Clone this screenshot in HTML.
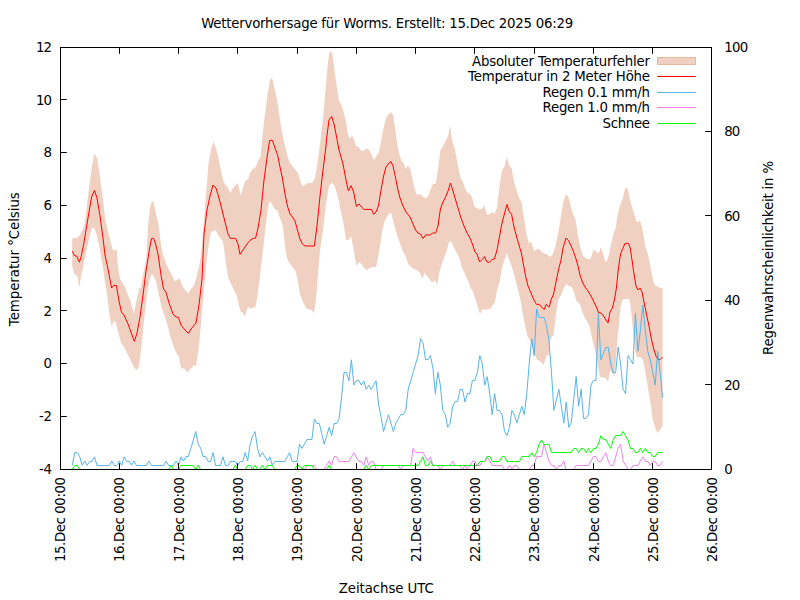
<!DOCTYPE html>
<html lang="de"><head><meta charset="utf-8"><title>Wettervorhersage für Worms</title>
<style>html,body{margin:0;padding:0;background:#fff}svg{display:block}text{font-family:"DejaVu Sans","Liberation Sans",sans-serif;font-size:13.33px;fill:#000}</style></head><body>
<svg width="800" height="600" viewBox="0 0 800 600">
<rect width="800" height="600" fill="#fff"/>
<polygon points="72.20,238.20 77.00,238.10 80.00,235.00 83.10,228.75 84.40,225.00 85.40,219.00 88.00,196.00 92.00,166.00 94.40,153.80 97.20,158.00 99.90,176.00 102.90,200.00 105.20,219.00 108.60,234.00 112.40,249.00 114.40,250.40 116.60,249.60 118.00,267.00 120.00,279.00 122.40,283.00 125.00,287.00 128.00,295.00 131.00,303.00 134.00,314.00 136.40,301.00 139.00,289.00 141.00,287.00 143.00,275.00 145.00,265.00 146.40,257.00 148.00,226.00 150.40,206.00 152.00,201.00 153.60,202.00 156.00,214.00 158.40,224.00 161.00,244.00 163.00,255.00 166.00,263.00 169.00,270.00 172.00,275.00 174.40,281.00 177.00,280.00 179.40,278.00 182.00,285.00 185.00,290.00 188.40,293.40 191.00,289.00 193.60,286.00 196.00,279.00 199.00,267.00 201.00,255.00 206.00,196.00 208.40,164.00 211.00,150.00 213.40,141.40 216.00,148.00 218.00,156.00 220.00,166.00 222.00,175.00 223.50,181.00 225.50,185.00 228.00,188.00 230.40,193.00 233.00,188.00 235.60,185.00 237.60,183.00 239.00,188.00 240.60,195.60 242.40,190.00 245.60,180.00 248.00,180.00 250.00,173.00 253.00,169.00 255.60,167.00 258.00,161.00 260.40,157.00 262.40,136.00 265.00,114.00 267.60,94.00 270.00,80.00 272.00,77.60 274.00,86.00 277.00,100.00 280.00,120.00 281.60,130.00 284.00,142.00 287.00,154.00 289.40,162.00 292.40,166.00 295.60,170.00 298.00,173.00 300.00,180.00 302.40,186.00 305.00,185.00 307.60,183.00 310.00,183.00 312.40,183.00 315.00,178.00 317.00,166.00 320.00,144.00 323.00,118.00 325.60,90.00 327.60,66.00 329.20,53.00 331.80,51.20 333.20,60.00 335.00,74.00 337.00,88.00 339.00,101.00 341.00,104.00 343.60,112.00 346.00,122.00 348.00,134.00 350.00,139.00 352.00,135.60 354.00,139.00 356.00,146.00 359.00,147.00 361.00,151.00 363.00,151.00 366.00,149.00 368.40,149.00 371.00,153.00 374.00,160.00 376.40,156.00 379.00,152.00 382.00,136.00 385.00,122.00 387.00,116.00 389.00,114.00 391.00,112.00 393.00,115.00 395.00,128.00 397.00,142.00 399.00,154.00 400.00,156.00 402.00,162.00 403.60,163.00 405.60,169.00 408.00,165.60 410.00,168.00 412.00,177.00 414.40,188.00 417.00,195.00 419.60,194.00 422.40,196.00 425.60,198.40 428.00,196.00 430.40,190.00 433.00,183.60 435.60,184.00 438.00,170.00 440.40,150.00 443.00,146.00 446.00,140.00 448.00,136.00 450.20,125.20 452.00,140.00 455.00,150.00 458.00,166.00 460.40,178.00 463.00,182.00 465.60,190.00 468.00,193.00 470.00,194.00 472.00,197.00 474.40,207.00 477.00,208.00 479.60,209.60 482.00,209.00 484.00,205.00 487.00,214.40 490.00,214.00 492.40,212.00 494.40,214.00 497.00,208.00 499.60,186.00 502.00,170.00 504.40,167.00 507.00,156.60 509.00,165.00 511.60,168.00 514.00,182.00 516.40,190.00 519.00,198.00 521.60,202.00 524.00,218.00 526.40,234.00 529.00,243.00 531.00,241.60 534.00,251.00 537.00,249.00 539.00,249.00 542.00,252.00 545.00,254.00 547.00,254.00 550.00,257.00 552.40,255.00 555.00,248.00 558.00,234.00 561.00,216.00 563.60,201.00 566.00,194.00 568.40,197.00 570.40,205.00 573.00,214.00 575.60,220.00 578.00,236.00 581.00,250.00 583.00,256.00 584.50,257.00 587.50,259.25 590.50,259.00 593.50,249.50 596.20,251.75 598.75,253.25 600.70,247.25 602.50,251.75 604.75,260.00 606.50,262.00 609.25,254.00 611.50,242.00 613.30,234.50 616.00,227.00 617.50,215.00 619.75,206.00 622.75,198.50 625.00,188.75 627.70,188.00 629.50,197.00 631.75,206.00 634.00,213.50 636.70,221.75 638.50,221.75 640.00,220.25 641.80,227.00 643.75,236.00 645.25,246.50 647.20,251.75 648.70,258.00 650.40,266.00 653.00,280.00 655.60,286.00 658.00,286.40 660.00,288.00 662.60,288.00 662.60,425.60 661.25,428.10 659.40,430.60 657.50,433.10 656.25,430.60 654.40,425.00 652.50,418.75 651.25,408.00 649.40,396.25 647.50,385.00 645.60,373.75 643.75,363.75 642.50,358.75 640.00,356.90 637.50,357.50 635.30,352.50 633.80,340.00 632.00,320.00 630.40,304.00 629.00,299.00 624.40,299.00 622.40,300.00 620.40,308.00 619.00,324.00 617.40,340.00 616.40,352.50 615.60,365.00 614.40,373.75 613.50,376.25 612.50,373.75 610.60,370.00 609.40,373.75 608.10,381.90 606.25,378.75 604.40,377.50 600.00,377.00 598.00,366.00 596.00,355.00 594.00,346.00 592.00,338.00 590.00,328.00 587.60,322.00 585.00,318.00 582.40,312.00 580.00,304.00 576.40,301.00 574.00,292.00 571.60,287.00 569.00,286.00 566.40,284.00 564.00,288.00 561.60,294.00 558.10,300.00 556.25,312.50 554.40,327.50 553.10,336.20 551.90,336.20 550.25,341.20 548.75,355.00 546.90,355.00 545.60,358.80 543.50,364.40 540.00,361.20 536.90,359.40 535.00,355.00 530.00,340.00 527.50,336.20 525.00,325.00 522.50,312.50 520.60,300.00 519.00,294.00 516.40,284.00 514.00,274.00 511.60,266.00 509.00,259.00 507.00,253.00 504.40,260.00 502.00,268.00 499.60,282.00 497.00,290.00 495.00,302.00 493.00,305.00 490.00,309.00 486.00,309.60 482.40,309.60 480.00,314.00 477.60,306.00 475.00,298.00 472.40,290.00 471.00,289.00 468.00,281.00 465.00,274.00 462.00,268.00 460.00,260.00 458.00,255.00 455.60,251.00 453.00,245.00 451.00,241.00 449.00,242.00 447.00,250.00 444.00,258.00 441.00,266.00 439.00,274.00 437.40,285.00 435.00,280.00 432.40,282.40 430.00,280.00 427.00,276.00 424.40,273.00 422.40,279.00 420.00,273.00 417.00,270.00 414.00,269.00 411.00,267.00 408.00,264.00 405.60,256.00 403.00,252.00 401.00,246.00 398.00,238.00 395.60,230.00 393.00,220.00 391.00,212.40 388.00,215.00 385.00,220.00 382.40,230.00 380.00,246.00 378.00,258.00 376.00,267.00 373.00,267.00 370.00,268.00 367.00,270.00 364.00,268.00 361.60,264.00 359.00,262.00 356.60,266.00 355.00,258.00 353.00,246.00 351.00,236.00 348.40,240.00 346.00,240.00 343.00,220.00 340.00,208.00 339.00,201.00 336.00,190.00 333.60,184.00 331.40,183.00 329.00,186.00 326.00,204.00 323.00,230.00 320.00,251.00 318.40,270.00 317.00,288.00 315.60,302.00 314.00,313.00 311.60,310.00 309.00,309.60 306.00,308.00 303.00,302.00 300.00,294.00 298.00,282.00 296.00,272.00 294.00,269.00 291.00,265.00 287.50,260.00 285.60,250.00 284.00,237.50 283.10,228.75 282.25,223.75 280.60,220.00 278.75,215.00 277.25,210.00 275.25,209.40 273.75,207.50 271.90,203.75 269.75,201.50 268.75,203.75 267.50,211.00 266.25,221.00 264.40,237.50 262.75,252.50 261.20,265.00 259.00,284.00 256.80,300.00 255.00,308.00 253.00,307.00 251.00,309.00 249.00,307.00 247.00,309.00 245.00,317.00 243.00,313.00 241.00,312.00 239.00,306.00 237.00,296.00 234.00,290.00 231.00,284.00 228.00,277.00 225.60,260.00 223.00,242.00 221.00,239.00 218.00,235.00 215.60,230.00 213.00,231.00 211.00,232.00 209.00,242.00 206.00,266.00 203.00,300.00 200.00,335.00 198.80,347.50 196.90,360.00 196.00,366.20 193.80,365.00 191.90,368.10 190.00,368.80 188.10,372.50 185.60,370.00 183.10,367.50 181.20,369.40 180.00,362.50 179.00,356.20 177.50,355.00 175.00,350.00 171.00,339.00 168.00,327.00 165.00,317.00 162.00,309.00 159.00,295.00 156.00,281.00 153.00,275.00 151.00,275.00 148.00,287.00 145.00,311.00 142.00,341.00 140.00,359.00 138.40,368.00 136.60,370.00 134.40,368.00 132.00,363.00 128.00,355.00 124.00,347.00 121.00,343.00 118.00,331.00 115.60,322.00 113.60,321.00 111.60,327.00 109.60,315.00 107.00,295.00 104.00,275.00 102.00,262.00 100.00,250.00 97.50,237.50 94.40,228.10 91.90,228.10 88.75,240.00 85.00,257.50 82.50,270.00 80.60,278.75 79.40,287.50 77.25,275.60 75.00,275.00 73.10,270.00 72.20,265.00" fill="#f0d0c0" stroke="none"/>
<polyline points="72.30,251.20 74.40,255.60 76.90,256.25 79.40,262.20 81.25,256.25 83.75,243.75 85.00,236.00 88.00,218.00 91.60,197.00 94.40,190.40 97.00,198.00 100.00,216.00 103.00,238.00 105.00,255.00 108.00,269.00 111.60,288.00 113.60,285.40 116.40,285.40 119.00,301.00 121.40,312.00 124.00,315.00 128.00,324.00 132.00,335.00 134.40,341.40 137.00,333.00 140.00,317.00 143.00,295.00 146.00,271.00 150.00,246.00 151.60,238.40 153.60,238.40 155.60,244.00 158.00,254.00 161.00,275.00 163.60,289.00 166.00,292.00 169.00,303.00 173.00,314.00 176.00,317.00 178.40,317.40 181.00,325.00 185.00,330.00 188.40,333.40 191.00,329.00 196.00,323.00 199.00,305.00 202.00,279.00 204.00,234.00 207.00,210.00 210.00,196.00 213.00,185.00 216.00,188.00 219.00,198.00 222.00,210.00 225.00,222.00 228.00,234.00 230.40,238.40 235.60,238.40 238.00,244.00 240.00,254.40 243.00,250.00 247.00,244.00 250.00,240.40 253.00,238.40 255.60,238.00 258.00,228.00 261.00,210.00 264.00,180.00 267.00,158.00 269.60,140.40 272.40,140.40 275.00,148.00 277.60,155.00 280.00,167.00 282.40,178.00 285.00,194.00 287.40,206.00 290.00,214.00 292.40,217.00 295.00,221.00 297.40,230.00 300.00,239.00 302.40,244.00 305.00,246.00 314.40,246.00 317.00,226.00 320.00,196.00 323.00,170.00 326.00,146.00 326.40,140.00 329.00,120.00 331.60,116.40 334.00,124.00 336.40,136.00 339.00,150.00 343.00,164.00 346.00,180.00 348.40,191.00 351.00,185.60 353.60,192.00 356.40,206.40 359.00,204.00 361.60,207.00 364.00,209.40 371.60,209.40 373.60,214.40 376.00,212.00 378.40,206.00 381.00,190.00 383.60,176.00 386.00,167.00 389.00,163.00 391.00,161.60 393.00,166.00 395.60,178.00 398.00,190.00 400.00,198.00 403.00,206.00 406.00,212.00 410.00,217.00 413.00,224.00 415.60,230.00 418.00,233.00 420.40,234.00 423.00,238.40 425.60,235.00 430.40,235.00 432.40,233.00 435.60,233.00 438.00,226.00 440.40,209.00 443.00,202.00 446.00,196.00 448.40,190.00 450.40,183.00 452.40,189.00 455.00,198.00 458.00,208.00 461.00,218.00 464.00,226.00 467.00,233.00 470.00,238.00 472.40,244.00 475.00,252.00 477.00,254.00 479.60,262.00 482.00,259.60 484.40,256.60 487.00,262.00 489.40,262.40 492.00,259.60 494.40,259.00 497.00,250.00 499.60,236.00 502.00,223.00 504.40,214.00 507.00,204.40 509.00,211.00 511.60,214.40 514.00,227.00 516.40,236.00 519.00,245.00 521.60,254.00 523.00,262.00 525.60,276.00 528.00,286.00 531.00,293.00 534.00,300.00 536.50,304.40 539.50,304.40 541.60,307.00 544.00,309.50 546.40,304.40 549.20,307.20 551.00,300.00 553.60,294.00 556.00,282.00 558.40,270.00 561.00,260.00 563.00,248.00 566.00,238.00 568.40,240.40 571.00,245.60 573.60,252.00 576.00,259.00 578.00,266.00 580.00,275.00 582.40,282.00 585.00,287.00 588.00,291.00 591.00,296.00 594.00,302.00 596.40,307.00 598.40,312.40 601.00,313.00 603.60,316.00 606.00,320.00 608.00,323.00 610.00,312.00 612.40,308.00 614.40,300.00 616.40,288.00 618.00,272.00 619.60,260.00 620.80,253.20 622.75,248.75 625.00,243.40 628.30,243.30 630.25,248.00 632.00,260.00 634.00,274.00 636.00,286.00 638.00,290.00 640.00,288.00 642.00,292.00 644.00,302.00 646.40,314.00 649.00,326.00 651.60,340.00 654.00,350.00 656.00,356.00 658.00,359.60 660.00,359.60 662.60,357.00" fill="none" stroke="#ff0000" stroke-width="1" stroke-linejoin="miter" stroke-miterlimit="10"/>
<polyline points="72.30,465.28 74.77,452.50 77.24,452.50 79.71,456.84 82.18,465.28 84.65,461.06 87.12,465.28 89.59,461.50 92.06,461.50 94.53,456.84 97.00,465.50 99.47,465.50 101.94,465.50 104.41,465.50 106.88,465.50 109.35,465.50 111.82,461.06 114.29,465.50 116.76,465.50 119.23,461.06 121.70,465.28 124.17,456.84 126.64,461.50 129.11,461.50 131.58,465.28 134.05,461.06 136.52,465.50 138.99,465.50 141.46,465.50 143.93,465.50 146.40,465.50 148.87,461.06 151.34,465.50 153.81,465.50 156.28,465.50 158.75,465.50 161.22,465.50 163.69,465.50 166.16,461.06 168.63,465.50 171.10,465.50 173.57,465.50 176.04,461.06 178.51,465.28 180.98,456.84 183.45,461.06 185.92,456.50 188.39,456.50 190.86,448.40 193.33,439.96 195.80,431.52 198.26,444.18 200.73,448.40 203.20,456.50 205.67,456.50 208.14,461.50 210.61,461.50 213.08,452.62 215.55,465.50 218.02,465.50 220.49,465.50 222.96,456.84 225.43,465.50 227.90,465.50 230.37,461.50 232.84,461.50 235.31,461.50 237.78,465.28 240.25,461.50 242.72,461.50 245.19,452.62 247.66,461.06 250.13,444.18 252.60,435.74 255.07,431.52 257.54,448.40 260.01,456.84 262.48,452.62 264.95,456.84 267.42,461.06 269.89,456.84 272.36,465.28 274.83,461.50 277.30,461.50 279.77,461.50 282.24,461.50 284.71,461.50 287.18,456.84 289.65,452.62 292.12,461.50 294.59,461.50 297.06,461.50 299.53,444.18 302.00,448.40 304.47,444.18 306.94,439.50 309.41,439.50 311.88,439.50 314.35,418.86 316.82,423.50 319.29,423.50 321.76,433.63 324.23,444.18 326.70,435.74 329.17,427.30 331.64,435.74 334.11,423.50 336.58,423.50 339.05,418.86 341.52,397.76 343.99,372.50 346.46,372.50 348.93,380.88 351.40,359.78 353.87,385.10 356.34,380.50 358.81,380.50 361.28,385.10 363.75,380.88 366.22,389.32 368.69,385.10 371.16,389.32 373.63,385.10 376.10,380.88 378.57,404.09 381.04,416.75 383.51,431.52 385.98,423.08 388.45,414.64 390.92,423.08 393.39,431.52 395.86,423.08 398.33,418.86 400.80,414.50 403.27,414.50 405.74,410.42 408.21,389.32 410.68,380.88 413.15,372.44 415.62,364.00 418.09,355.56 420.56,338.68 423.03,342.90 425.50,359.50 427.97,359.50 430.44,355.56 432.91,368.22 435.38,393.54 437.85,372.44 440.32,385.10 442.79,410.42 445.25,414.64 447.72,427.30 450.19,423.08 452.66,406.20 455.13,401.50 457.60,401.50 460.07,389.50 462.54,389.50 465.01,401.98 467.48,393.50 469.95,393.50 472.42,380.50 474.89,380.50 477.36,372.44 479.83,355.56 482.30,364.00 484.77,385.10 487.24,376.66 489.71,393.54 492.18,414.64 494.65,393.54 497.12,410.50 499.59,410.50 502.06,414.64 504.53,431.52 507.00,435.74 509.47,427.30 511.94,410.42 514.41,414.64 516.88,423.08 519.35,414.64 521.82,406.20 524.29,414.64 526.76,393.54 529.23,364.00 531.70,338.68 534.17,355.56 536.64,309.14 539.11,317.50 541.58,317.50 544.05,317.50 546.52,326.02 548.99,340.79 551.46,372.44 553.93,410.42 556.40,399.87 558.87,389.32 561.34,406.20 563.81,423.08 566.28,401.98 568.75,427.30 571.22,423.08 573.69,399.87 576.16,376.66 578.63,406.20 581.10,389.32 583.57,418.50 586.04,418.50 588.51,414.64 590.98,385.10 593.45,380.50 595.92,380.50 598.39,313.36 600.86,359.78 603.33,353.45 605.80,347.50 608.27,347.50 610.74,364.00 613.21,372.50 615.68,372.50 618.15,347.12 620.62,364.00 623.09,389.32 625.56,393.54 628.03,355.56 630.50,359.78 632.97,364.00 635.44,313.36 637.91,351.34 640.38,330.24 642.85,304.92 645.32,330.24 647.79,351.34 650.26,359.78 652.73,372.44 655.20,385.10 657.67,351.34 660.14,372.44 662.61,397.76" fill="none" stroke="#56b4e9" stroke-width="1" stroke-linejoin="miter" stroke-miterlimit="10"/>
<polyline points="72.30,469.50 74.77,469.50 77.24,469.50 79.71,469.50 82.18,469.50 84.65,469.50 87.12,469.50 89.59,469.50 92.06,469.50 94.53,469.50 97.00,469.50 99.47,469.50 101.94,469.50 104.41,469.50 106.88,469.50 109.35,469.50 111.82,469.50 114.29,469.50 116.76,469.50 119.23,469.50 121.70,469.50 124.17,469.50 126.64,469.50 129.11,469.50 131.58,469.50 134.05,469.50 136.52,469.50 138.99,469.50 141.46,469.50 143.93,469.50 146.40,469.50 148.87,469.50 151.34,469.50 153.81,469.50 156.28,469.50 158.75,469.50 161.22,469.50 163.69,469.50 166.16,469.50 168.63,469.50 171.10,469.50 173.57,469.50 176.04,469.50 178.51,469.50 180.98,469.50 183.45,469.50 185.92,469.50 188.39,469.50 190.86,469.50 193.33,469.50 195.80,469.50 198.26,469.50 200.73,469.50 203.20,469.50 205.67,469.50 208.14,469.50 210.61,469.50 213.08,469.50 215.55,469.50 218.02,469.50 220.49,469.50 222.96,469.50 225.43,469.50 227.90,469.50 230.37,469.50 232.84,469.50 235.31,469.50 237.78,469.50 240.25,469.50 242.72,469.50 245.19,469.50 247.66,469.50 250.13,469.50 252.60,469.50 255.07,469.50 257.54,469.50 260.01,469.50 262.48,469.50 264.95,469.50 267.42,469.50 269.89,469.50 272.36,469.50 274.83,469.50 277.30,469.50 279.77,469.50 282.24,469.50 284.71,469.50 287.18,469.50 289.65,469.50 292.12,469.50 294.59,469.50 297.06,469.50 299.53,469.50 302.00,469.50 304.47,469.50 306.94,465.50 309.41,465.50 311.88,465.50 314.35,465.50 316.82,469.50 319.29,469.50 321.76,469.50 324.23,469.50 326.70,465.28 329.17,461.06 331.64,465.28 334.11,456.50 336.58,456.50 339.05,461.50 341.52,461.50 343.99,461.50 346.46,461.50 348.93,461.50 351.40,456.84 353.87,452.62 356.34,456.84 358.81,461.50 361.28,461.50 363.75,465.28 366.22,456.84 368.69,465.28 371.16,461.50 373.63,461.50 376.10,469.50 378.57,469.50 381.04,469.50 383.51,465.50 385.98,465.50 388.45,465.50 390.92,465.50 393.39,465.50 395.86,465.50 398.33,465.50 400.80,469.50 403.27,465.50 405.74,465.50 408.21,465.50 410.68,465.50 413.15,448.40 415.62,452.50 418.09,452.50 420.56,452.50 423.03,452.50 425.50,456.84 427.97,461.06 430.44,456.84 432.91,465.50 435.38,465.50 437.85,465.50 440.32,469.50 442.79,465.50 445.25,465.50 447.72,465.50 450.19,465.50 452.66,461.06 455.13,465.50 457.60,465.50 460.07,465.50 462.54,469.50 465.01,465.28 467.48,469.50 469.95,465.28 472.42,461.50 474.89,461.50 477.36,465.50 479.83,465.50 482.30,461.50 484.77,461.50 487.24,456.84 489.71,461.06 492.18,465.50 494.65,465.50 497.12,465.50 499.59,465.50 502.06,465.50 504.53,469.50 507.00,469.50 509.47,465.28 511.94,469.50 514.41,465.50 516.88,465.50 519.35,469.50 521.82,469.50 524.29,469.50 526.76,469.50 529.23,469.50 531.70,465.50 534.17,465.50 536.64,456.50 539.11,456.50 541.58,456.50 544.05,444.18 546.52,452.62 548.99,461.06 551.46,465.50 553.93,465.50 556.40,469.50 558.87,465.50 561.34,465.50 563.81,461.06 566.28,469.50 568.75,469.50 571.22,469.50 573.69,469.50 576.16,465.50 578.63,465.50 581.10,465.50 583.57,465.50 586.04,465.50 588.51,465.50 590.98,461.06 593.45,456.50 595.92,456.50 598.39,461.50 600.86,461.50 603.33,456.84 605.80,452.62 608.27,461.06 610.74,465.50 613.21,465.50 615.68,456.84 618.15,448.40 620.62,444.18 623.09,461.06 625.56,465.28 628.03,469.50 630.50,469.50 632.97,465.50 635.44,465.50 637.91,465.50 640.38,461.06 642.85,456.84 645.32,461.50 647.79,461.50 650.26,465.28 652.73,461.50 655.20,461.50 657.67,465.50 660.14,465.50 662.61,461.06" fill="none" stroke="#ee82ee" stroke-width="1" stroke-linejoin="miter" stroke-miterlimit="10"/>
<polyline points="72.30,469.50 74.77,465.50 77.24,465.50 79.71,469.50 82.18,469.50 84.65,469.50 87.12,469.50 89.59,469.50 92.06,469.50 94.53,469.50 97.00,469.50 99.47,469.50 101.94,469.50 104.41,469.50 106.88,469.50 109.35,469.50 111.82,469.50 114.29,469.50 116.76,469.50 119.23,469.50 121.70,469.50 124.17,469.50 126.64,469.50 129.11,469.50 131.58,469.50 134.05,469.50 136.52,469.50 138.99,469.50 141.46,469.50 143.93,469.50 146.40,469.50 148.87,469.50 151.34,469.50 153.81,469.50 156.28,469.50 158.75,469.50 161.22,469.50 163.69,469.50 166.16,469.50 168.63,469.50 171.10,465.28 173.57,469.50 176.04,469.50 178.51,469.50 180.98,465.50 183.45,465.50 185.92,465.50 188.39,465.50 190.86,465.50 193.33,465.50 195.80,469.50 198.26,465.28 200.73,469.50 203.20,469.50 205.67,469.50 208.14,469.50 210.61,469.50 213.08,469.50 215.55,469.50 218.02,469.50 220.49,469.50 222.96,469.50 225.43,469.50 227.90,469.50 230.37,469.50 232.84,469.50 235.31,465.28 237.78,469.50 240.25,469.50 242.72,469.50 245.19,469.50 247.66,465.50 250.13,465.50 252.60,469.50 255.07,465.28 257.54,469.50 260.01,469.50 262.48,465.28 264.95,469.50 267.42,465.50 269.89,465.50 272.36,465.50 274.83,469.50 277.30,469.50 279.77,469.50 282.24,469.50 284.71,469.50 287.18,469.50 289.65,469.50 292.12,469.50 294.59,469.50 297.06,465.50 299.53,465.50 302.00,469.50 304.47,465.50 306.94,465.50 309.41,465.50 311.88,465.50 314.35,469.50 316.82,469.50 319.29,469.50 321.76,469.50 324.23,469.50 326.70,469.50 329.17,465.28 331.64,469.50 334.11,469.50 336.58,469.50 339.05,469.50 341.52,469.50 343.99,469.50 346.46,469.50 348.93,469.50 351.40,469.50 353.87,469.50 356.34,469.50 358.81,469.50 361.28,469.50 363.75,469.50 366.22,465.28 368.69,469.50 371.16,465.50 373.63,465.50 376.10,465.50 378.57,465.50 381.04,465.50 383.51,465.50 385.98,465.50 388.45,465.50 390.92,465.50 393.39,465.50 395.86,465.50 398.33,465.50 400.80,465.50 403.27,465.50 405.74,465.50 408.21,465.50 410.68,465.50 413.15,465.50 415.62,465.50 418.09,465.50 420.56,461.06 423.03,456.84 425.50,465.50 427.97,465.50 430.44,461.06 432.91,465.50 435.38,465.50 437.85,465.50 440.32,465.50 442.79,465.50 445.25,465.50 447.72,465.50 450.19,465.50 452.66,465.50 455.13,465.50 457.60,465.50 460.07,465.50 462.54,465.50 465.01,465.50 467.48,465.50 469.95,465.50 472.42,465.50 474.89,465.50 477.36,465.50 479.83,461.50 482.30,461.50 484.77,461.50 487.24,456.50 489.71,456.50 492.18,461.50 494.65,461.50 497.12,461.50 499.59,461.50 502.06,456.50 504.53,456.50 507.00,461.50 509.47,461.50 511.94,461.50 514.41,461.50 516.88,461.50 519.35,461.50 521.82,456.50 524.29,456.50 526.76,456.50 529.23,456.50 531.70,452.62 534.17,456.84 536.64,452.62 539.11,444.18 541.58,439.96 544.05,444.50 546.52,444.50 548.99,444.50 551.46,452.50 553.93,452.50 556.40,452.50 558.87,452.50 561.34,452.50 563.81,452.50 566.28,452.50 568.75,452.50 571.22,452.50 573.69,448.50 576.16,448.50 578.63,452.62 581.10,448.50 583.57,448.50 586.04,452.62 588.51,448.40 590.98,452.62 593.45,448.50 595.92,448.50 598.39,444.18 600.86,435.74 603.33,439.50 605.80,439.50 608.27,444.18 610.74,448.40 613.21,439.96 615.68,435.50 618.15,435.50 620.62,435.50 623.09,431.52 625.56,435.74 628.03,439.96 630.50,448.50 632.97,448.50 635.44,452.50 637.91,452.50 640.38,448.40 642.85,452.62 645.32,448.40 647.79,452.50 650.26,452.50 652.73,456.50 655.20,456.50 657.67,452.50 660.14,452.50 662.61,452.50" fill="none" stroke="#00ff00" stroke-width="1" stroke-linejoin="miter" stroke-miterlimit="10"/>
<path d="M119.5 469.50V463.20M119.5 47.50V53.80M178.5 469.50V463.20M178.5 47.50V53.80M237.5 469.50V463.20M237.5 47.50V53.80M297.5 469.50V463.20M297.5 47.50V53.80M356.5 469.50V463.20M356.5 47.50V53.80M415.5 469.50V463.20M415.5 47.50V53.80M474.5 469.50V463.20M474.5 47.50V53.80M534.5 469.50V463.20M534.5 47.50V53.80M593.5 469.50V463.20M593.5 47.50V53.80M652.5 469.50V463.20M652.5 47.50V53.80M60.50 99.5H66.80M60.50 152.5H66.80M60.50 205.5H66.80M60.50 258.5H66.80M60.50 310.5H66.80M60.50 363.5H66.80M60.50 416.5H66.80M711.50 384.5H705.20M711.50 300.5H705.20M711.50 215.5H705.20M711.50 131.5H705.20" stroke="#000" stroke-width="1" fill="none"/>
<rect x="60.50" y="47.50" width="651.00" height="422.00" fill="none" stroke="#000" stroke-width="1"/>
<text x="52.1" y="474.00" text-anchor="end" textLength="13" lengthAdjust="spacing">-4</text>
<text x="52.1" y="421.00" text-anchor="end" textLength="13" lengthAdjust="spacing">-2</text>
<text x="52.1" y="368.00" text-anchor="end" textLength="8" lengthAdjust="spacing">0</text>
<text x="52.1" y="316.00" text-anchor="end" textLength="8" lengthAdjust="spacing">2</text>
<text x="52.1" y="263.00" text-anchor="end" textLength="8" lengthAdjust="spacing">4</text>
<text x="52.1" y="210.00" text-anchor="end" textLength="8" lengthAdjust="spacing">6</text>
<text x="52.1" y="157.00" text-anchor="end" textLength="8" lengthAdjust="spacing">8</text>
<text x="52.1" y="105.00" text-anchor="end" textLength="16" lengthAdjust="spacing">10</text>
<text x="52.1" y="52.00" text-anchor="end" textLength="16" lengthAdjust="spacing">12</text>
<text x="724.2" y="474.00" textLength="8" lengthAdjust="spacing">0</text>
<text x="724.2" y="390.00" textLength="16" lengthAdjust="spacing">20</text>
<text x="724.2" y="305.00" textLength="16" lengthAdjust="spacing">40</text>
<text x="724.2" y="221.00" textLength="16" lengthAdjust="spacing">60</text>
<text x="724.2" y="136.00" textLength="16" lengthAdjust="spacing">80</text>
<text x="724.2" y="52.00" textLength="24" lengthAdjust="spacing">100</text>
<text transform="translate(65.20,477) rotate(-90)" text-anchor="end" textLength="85" lengthAdjust="spacing">15.Dec 00:00</text>
<text transform="translate(124.47,477) rotate(-90)" text-anchor="end" textLength="85" lengthAdjust="spacing">16.Dec 00:00</text>
<text transform="translate(183.74,477) rotate(-90)" text-anchor="end" textLength="85" lengthAdjust="spacing">17.Dec 00:00</text>
<text transform="translate(243.01,477) rotate(-90)" text-anchor="end" textLength="85" lengthAdjust="spacing">18.Dec 00:00</text>
<text transform="translate(302.28,477) rotate(-90)" text-anchor="end" textLength="85" lengthAdjust="spacing">19.Dec 00:00</text>
<text transform="translate(361.55,477) rotate(-90)" text-anchor="end" textLength="85" lengthAdjust="spacing">20.Dec 00:00</text>
<text transform="translate(420.82,477) rotate(-90)" text-anchor="end" textLength="85" lengthAdjust="spacing">21.Dec 00:00</text>
<text transform="translate(480.09,477) rotate(-90)" text-anchor="end" textLength="85" lengthAdjust="spacing">22.Dec 00:00</text>
<text transform="translate(539.36,477) rotate(-90)" text-anchor="end" textLength="85" lengthAdjust="spacing">23.Dec 00:00</text>
<text transform="translate(598.63,477) rotate(-90)" text-anchor="end" textLength="85" lengthAdjust="spacing">24.Dec 00:00</text>
<text transform="translate(657.90,477) rotate(-90)" text-anchor="end" textLength="85" lengthAdjust="spacing">25.Dec 00:00</text>
<text transform="translate(717.17,477) rotate(-90)" text-anchor="end" textLength="85" lengthAdjust="spacing">26.Dec 00:00</text>
<text x="201.2" y="28" textLength="372" lengthAdjust="spacing">Wettervorhersage für Worms. Erstellt: 15.Dec 2025 06:29</text>
<text x="338.8" y="593" textLength="95" lengthAdjust="spacing">Zeitachse UTC</text>
<text transform="translate(19.2,259.2) rotate(-90)" text-anchor="middle" textLength="134" lengthAdjust="spacing">Temperatur °Celsius</text>
<text transform="translate(772.6,257.9) rotate(-90)" text-anchor="middle" textLength="194" lengthAdjust="spacing">Regenwahrscheinlichkeit in %</text>
<text x="650" y="65.90" text-anchor="end" textLength="178" lengthAdjust="spacing">Absoluter Temperaturfehler</text>
<rect x="657.5" y="57.5" width="38" height="7" fill="#f0d0c0" stroke="#eab89e" stroke-width="1"/>
<text x="650" y="81.20" text-anchor="end" textLength="182" lengthAdjust="spacing">Temperatur in 2 Meter Höhe</text>
<path d="M657.2 76.50H695.8" stroke="#ff0000" stroke-width="1" fill="none"/>
<text x="650" y="96.50" text-anchor="end" textLength="107.5" lengthAdjust="spacing">Regen 0.1 mm/h</text>
<path d="M657.2 92.50H695.8" stroke="#56b4e9" stroke-width="1" fill="none"/>
<text x="650" y="111.90" text-anchor="end" textLength="107.5" lengthAdjust="spacing">Regen 1.0 mm/h</text>
<path d="M657.2 107.50H695.8" stroke="#ee82ee" stroke-width="1" fill="none"/>
<text x="650" y="127.70" text-anchor="end" textLength="47.5" lengthAdjust="spacing">Schnee</text>
<path d="M657.2 123.50H695.8" stroke="#00ff00" stroke-width="1" fill="none"/>
</svg></body></html>
